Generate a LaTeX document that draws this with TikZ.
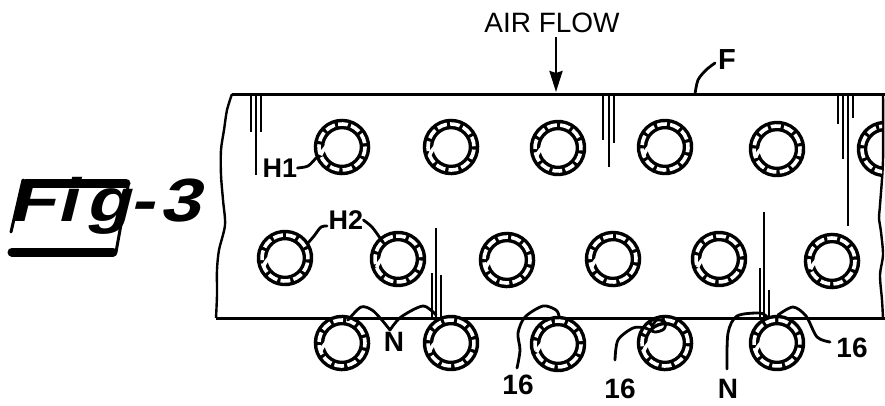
\documentclass[tikz,border=0pt]{standalone}
\usetikzlibrary{arrows.meta}
\usepackage{fontspec}
\setmainfont{Liberation Sans}
\newfontfamily\heavyfont{Liberation Sans Bold}
\newfontfamily\logofont[FakeSlant=0.25,FakeStretch=1.2]{Liberation Sans Bold}
\tikzset{
  tube/.style={circle,draw=black,line width=10.5pt,minimum size=46pt,inner sep=0pt,outer sep=0pt,
    postaction={draw=white,line width=3.6pt,dash pattern=on 9.8pt off 3.3pt}},
  long gap/.style={white,line width=3.6pt},
  edge line/.style={line width=3pt},
  rim/.style={line width=2.4pt},
  fin/.style={line width=1.8pt},
  lead/.style={line width=2.8pt,line cap=round},
  label/.style={inner sep=0pt,font=\heavyfont\fontsize{#1}{#1}\selectfont},
  logo/.style={line width=9pt,line cap=round}
}
\begin{document}
\begin{tikzpicture}[x=1pt,y=-1pt]
\useasboundingbox (0,0) rectangle (885,405);
% labels
\node[inner sep=0pt,font=\fontsize{28}{28}\selectfont] (air) at (552,23) {AIR FLOW};
\node[label=29] (F) at (727,60) {F};
\node[label=27] (h1) at (280,168) {H1};
\node[label=27] (h2) at (346,220) {H2};
\node[label=28] (n1) at (394,342) {N};
\node[label=28] (s1) at (518,385) {16};
\node[label=28] (s2) at (620,389) {16};
\node[label=28] (n2) at (728,389) {N};
\node[label=28] (s3) at (852,348) {16};
% outline
\coordinate (tl) at (232,94); \coordinate (tr) at (885,94);
\coordinate (bl) at (216,318); \coordinate (br) at (885,318);
\coordinate (arrowend) at (556,92);
\coordinate (ftop) at (695,94);
\draw[edge line] (tl) -- (tr);
\draw[edge line] (bl) -- (br);
\draw[rim] plot[smooth] coordinates {(tl) (227,110) (224,130) (221,150) (221,175) (223,200) (225,225) (219,250) (217,270) (217,295) (bl)};
\draw[rim] plot[smooth] coordinates {(883,94) (883,160) (880,205) (879,218) (881,232) (883,255) (880,275) (882,300) (883,318)};
% fins
\foreach \x/\a/\b in {251/93/132,256/93/175,261/93/132,603/93/140,609/93/167,614/93/143,838/93/124,843/93/159,853/93/118,848/93/226,
                      432/273/318,436/228/318,441/275/318,760/268/318,764/212/318,769/290/318}
  \draw[fin] (\x,\a) -- (\x,\b);
% tubes
\node[tube,rotate=10] (a1) at (342,147) {};
\node[tube,rotate=35] (a2) at (451,147) {};
\node[tube,rotate=60] (a3) at (558,148) {};
\node[tube,rotate=20] (a4) at (665,147) {};
\node[tube,rotate=48] (a5) at (777,149) {};
\begin{scope}
\clip (800,100) rectangle (882,200);
\node[tube,rotate=15] (a6) at (885,149) {};
\end{scope}
\node[tube,rotate=30] (b1) at (285,258) {};
\node[tube,rotate=5] (b2) at (398,259) {};
\node[tube,rotate=55] (b3) at (507,260) {};
\node[tube,rotate=25] (b4) at (613,259) {};
\node[tube,rotate=40] (b5) at (719,259) {};
\node[tube,rotate=12] (b6) at (832,261) {};
\node[tube,rotate=22] (c1) at (342,343) {};
\node[tube,rotate=50] (c2) at (451,343) {};
\node[tube,rotate=8] (c3) at (558,344) {};
\node[tube,rotate=33] (c4) at (665,343) {};
\node[tube,rotate=62] (c5) at (777,343) {};
\foreach \n in {a1,a2,a3,a4,a5,b1,b2,b3,b4,b5,b6,c1,c2,c3,c4,c5}
  \draw[long gap] ([shift={(-21.47,8.24)}]\n.center) arc[start angle=159,end angle=118,radius=23pt];
% arrow
\draw[line width=2.6pt,-{Stealth[length=21pt,width=13pt,inset=2pt]}] (556,37) -- (arrowend);
% leaders
\draw[lead] plot[smooth] coordinates {(715,63) (706,70) (698,80) (ftop)};
\draw[lead] plot[smooth] coordinates {(h1.east) (308,166) (316,158)};
\draw[lead] plot[smooth] coordinates {(327,226) (321,227) (314,236) (308,243)};
\draw[lead] plot[smooth] coordinates {(h2.east) (372,227) (380,238)};
% wires
\draw[lead] plot[smooth] coordinates {(348,320) (361,307) (372,310) (381,319) (390,330)};
\draw[lead] plot[smooth] coordinates {(390,330) (401,317) (423,306) (436,315)};
\draw[lead] plot[smooth] coordinates {(517,368) (520,350) (518,333) (525,317) (543,306) (556,310) (559,316)};
\draw[lead] plot[smooth] coordinates {(615,360) (618,340) (633,328) (645,328) (655,332) (664,329) (665,322) (657,320) (652,326)};
\draw[lead] plot[smooth] coordinates {(727,369) (728,333) (737,316) (760,313) (767,317)};
\draw[lead] plot[smooth] coordinates {(778,315) (793,307) (806,316) (817,337) (830,342)};
% figure mark
\node[inner sep=0pt,anchor=base west] (fig) at (9,221) {\logofont\fontsize{61}{61}\selectfont F\kern3pt i\kern8pt g\kern0pt-\kern5pt 3};
\draw[logo] (27,183) -- (126,183);
\draw[line width=3pt,line cap=round] (23,180) -- (11,232);
\draw[line width=3pt] (128,186) -- (116,252);
\draw[logo] (12,252) -- (113,252);
\end{tikzpicture}
\end{document}
